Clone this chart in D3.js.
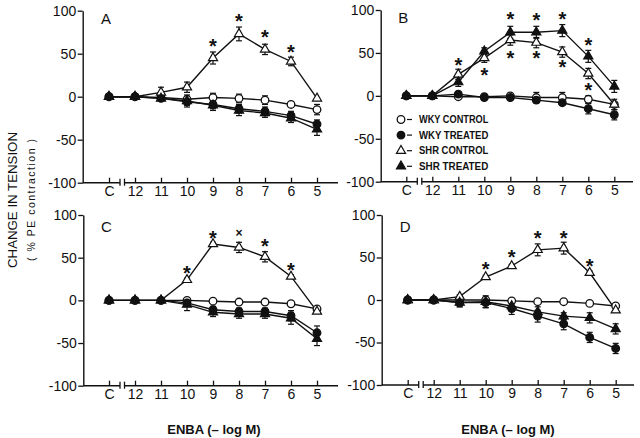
<!DOCTYPE html>
<html><head><meta charset="utf-8">
<script src="https://cdn.jsdelivr.net/npm/d3@7"></script>
<style>
html,body{margin:0;padding:0;background:#fff;}
svg{display:block;}
text{font-family:"Liberation Sans",Arial,sans-serif;fill:#111;}
</style></head>
<body>
<svg id="chart" width="640" height="438"></svg>
<script>
// ---------------- DATA ----------------
const categories = ["C","12","11","10","9","8","7","6","5"];
const yTicks = [100, 50, 0, -50, -100];
const seriesNames = ["WKY CONTROL","WKY TREATED","SHR CONTROL","SHR TREATED"];
const panelLabels = ["A","B","C","D"];

// Panel A
const A_wkyControl = [0, 0, -1, -3, -1, -2, -4, -9, -15];
const A_wkyTreated = [0, 0, -2, -6, -9, -14, -17, -22, -32];
const A_shrControl = [0, 0, 5, 11, 45, 73, 55, 41, -2];
const A_shrTreated = [0, 0, -2, -5, -10, -16, -19, -25, -38];
const A_wkyControlErr = [0, 0, 2, 3, 5, 5, 5, 3, 6];
const A_wkyTreatedErr = [0, 0, 2, 4, 5, 5, 5, 5, 5];
const A_shrControlErr = [0, 0, 6, 6, 7, 8, 6, 5, 0];
const A_shrTreatedErr = [0, 0, 3, 7, 6, 6, 5, 5, 7];
const A_starCats = ["9","8","7","6"];
const A_starVals = [63, 92, 73, 56];
const A_starSyms = ["*","*","*","*"];

// Panel B
const B_wkyControl = [0, 0, -1, -1, 0, -2, -2, -4, -10];
const B_wkyTreated = [0, 0, 2, -2, -2, -5, -8, -15, -22];
const B_shrControl = [0, 0, 25, 44, 65, 62, 51, 26, -10];
const B_shrTreated = [0, 0, 16, 52, 74, 74, 76, 46, 11];
const B_wkyControlErr = [0, 0, 2, 2, 2, 6, 6, 4, 6];
const B_wkyTreatedErr = [0, 0, 2, 2, 2, 3, 3, 6, 6];
const B_shrControlErr = [0, 0, 6, 5, 6, 6, 6, 6, 0];
const B_shrTreatedErr = [0, 0, 5, 4, 7, 7, 7, 7, 7];
const B_starCats = ["11","10","9","9","8","8","7","7","6","6"];
const B_starVals = [39, 28, 93, 48, 92, 48, 93, 37, 63, 10];
const B_starSyms = ["*","*","*","*","*","*","*","*","*","*"];

// Panel C
const C_wkyControl = [0, 0, 0, 0, -1, -2, -2, -4, -10];
const C_wkyTreated = [0, 0, 0, -3, -11, -13, -13, -18, -38];
const C_shrControl = [0, 0, 0, 24, 66, 62, 51, 28, -13];
const C_shrTreated = [0, 0, 0, -5, -14, -16, -16, -21, -45];
const C_wkyControlErr = [0, 0, 0, 2, 2, 2, 2, 2, 2];
const C_wkyTreatedErr = [0, 0, 1, 4, 4, 4, 4, 6, 8];
const C_shrControlErr = [0, 0, 0, 2, 2, 6, 6, 2, 2];
const C_shrTreatedErr = [0, 0, 1, 7, 5, 5, 5, 7, 8];
const C_starCats = ["10","9","8","7","6"];
const C_starVals = [35, 76, 79, 67, 39];
const C_starSyms = ["*","*","×","*","*"];

// Panel D
const D_wkyControl = [0, 0, 0, 0, -1, -2, -2, -4, -7];
const D_wkyTreated = [0, 0, -3, -3, -10, -19, -28, -44, -57];
const D_shrControl = [0, 0, 4, 27, 40, 59, 61, 32, -12];
const D_shrTreated = [0, 0, -3, -2, -7, -14, -19, -21, -34];
const D_wkyControlErr = [0, 0, 0, 2, 2, 2, 2, 2, 2];
const D_wkyTreatedErr = [0, 0, 5, 6, 7, 7, 7, 6, 6];
const D_shrControlErr = [0, 0, 2, 2, 2, 7, 7, 2, 2];
const D_shrTreatedErr = [0, 0, 5, 7, 6, 6, 4, 6, 6];
const D_starCats = ["10","9","8","7","6"];
const D_starVals = [40, 54, 76, 76, 44];
const D_starSyms = ["*","*","*","*","*"];

const panelsData = [
  {vals:[A_wkyControl,A_wkyTreated,A_shrControl,A_shrTreated],
   errs:[A_wkyControlErr,A_wkyTreatedErr,A_shrControlErr,A_shrTreatedErr],
   starCats:A_starCats, starVals:A_starVals, starSyms:A_starSyms},
  {vals:[B_wkyControl,B_wkyTreated,B_shrControl,B_shrTreated],
   errs:[B_wkyControlErr,B_wkyTreatedErr,B_shrControlErr,B_shrTreatedErr],
   starCats:B_starCats, starVals:B_starVals, starSyms:B_starSyms},
  {vals:[C_wkyControl,C_wkyTreated,C_shrControl,C_shrTreated],
   errs:[C_wkyControlErr,C_wkyTreatedErr,C_shrControlErr,C_shrTreatedErr],
   starCats:C_starCats, starVals:C_starVals, starSyms:C_starSyms},
  {vals:[D_wkyControl,D_wkyTreated,D_shrControl,D_shrTreated],
   errs:[D_wkyControlErr,D_wkyTreatedErr,D_shrControlErr,D_shrTreatedErr],
   starCats:D_starCats, starVals:D_starVals, starSyms:D_starSyms}
];

// ---------------- LAYOUT ----------------
const layouts = [
  {axisX:82.7, yTop:10.7, yBot:182.7, cx0:109, xEnd:338},
  {axisX:380.7, yTop:10,  yBot:181.7, cx0:406.3, xEnd:633},
  {axisX:83.3, yTop:215,  yBot:385.7, cx0:109, xEnd:338},
  {axisX:381.7, yTop:215, yBot:385,   cx0:407.7, xEnd:634}
];
const step = 26;
// marker styles per series: [shape, filled]
const markerStyle = [["circle",false],["circle",true],["triangle",false],["triangle",true]];

const svg = d3.select("#chart");

function drawMarker(g, shape, filled, x, y) {
  if (shape === "circle") {
    g.append("circle").attr("cx", x).attr("cy", y).attr("r", 3.8)
      .attr("fill", filled ? "#111" : "#fff").attr("stroke", "#111").attr("stroke-width", 1.3);
  } else {
    g.append("path").attr("d", d3.symbol(d3.symbolTriangle, 36)())
      .attr("transform", `translate(${x},${y})`)
      .attr("fill", filled ? "#111" : "#fff").attr("stroke", "#111").attr("stroke-width", 1.2);
  }
}

panelsData.forEach((pd, pi) => {
  const L = layouts[pi];
  const g = svg.append("g");
  const x = d3.scalePoint().domain(categories).range([L.cx0, L.cx0 + step * (categories.length - 1)]);
  const y = d3.scaleLinear().domain([-100, 100]).range([L.yBot, L.yTop]);

  // Y axis
  const yAxis = d3.axisLeft(y).tickValues(yTicks).tickSize(5).tickSizeOuter(0).tickPadding(1.5)
    .tickFormat(d => d < 0 ? "-" + Math.abs(d) : String(d));
  const ya = g.append("g").attr("transform", `translate(${L.axisX},0)`).call(yAxis);
  ya.selectAll("text").attr("font-size", 14).attr("font-family", "Liberation Sans").attr("fill", "#111");
  ya.selectAll("line").attr("stroke", "#111").attr("stroke-width", 1.3);
  ya.select(".domain").attr("stroke", "#111").attr("stroke-width", 1.4);

  // X axis (ticks upward, custom broken baseline)
  const xAxis = d3.axisBottom(x).tickSize(-5).tickSizeOuter(0).tickPadding(3);
  const xa = g.append("g").attr("transform", `translate(0,${L.yBot})`).call(xAxis);
  xa.select(".domain").remove();
  xa.selectAll("text").attr("font-size", 14).attr("font-family", "Liberation Sans").attr("fill", "#111");
  xa.selectAll("line").attr("stroke", "#111").attr("stroke-width", 1.3);
  const b1 = x("C") + 11, b2 = x("C") + 15.5;
  g.append("line").attr("x1", L.axisX).attr("x2", b1).attr("y1", L.yBot).attr("y2", L.yBot)
    .attr("stroke", "#111").attr("stroke-width", 1.4);
  g.append("line").attr("x1", b2).attr("x2", L.xEnd).attr("y1", L.yBot).attr("y2", L.yBot)
    .attr("stroke", "#111").attr("stroke-width", 1.4);
  [b1, b2].forEach(bx => g.append("line").attr("x1", bx).attr("x2", bx)
    .attr("y1", L.yBot - 4).attr("y2", L.yBot + 3).attr("stroke", "#111").attr("stroke-width", 1.3));

  // panel letter
  g.append("text").attr("x", x("C") - 8).attr("y", L.yTop + 13 + (pi >= 2 ? 4 : 0))
    .attr("font-size", 15).text(panelLabels[pi]);

  const line = d3.line().x((d, i) => x(categories[i])).y(d => y(d));
  // lines
  pd.vals.forEach(vals => {
    g.append("path").attr("d", line(vals)).attr("fill", "none")
      .attr("stroke", "#111").attr("stroke-width", 1.4);
  });
  // error bars
  pd.vals.forEach((vals, si) => {
    vals.forEach((v, i) => {
      const e = pd.errs[si][i];
      if (!e) return;
      const cx = x(categories[i]);
      g.append("line").attr("x1", cx).attr("x2", cx).attr("y1", y(v - e)).attr("y2", y(v + e))
        .attr("stroke", "#111").attr("stroke-width", 1.2);
      [v - e, v + e].forEach(t => g.append("line").attr("x1", cx - 3).attr("x2", cx + 3)
        .attr("y1", y(t)).attr("y2", y(t)).attr("stroke", "#111").attr("stroke-width", 1.2));
    });
  });
  // markers
  pd.vals.forEach((vals, si) => {
    vals.forEach((v, i) => drawMarker(g, markerStyle[si][0], markerStyle[si][1], x(categories[i]), y(v)));
  });
  // significance marks
  pd.starCats.forEach((c, i) => {
    const sym = pd.starSyms[i];
    g.append("text").attr("x", x(c)).attr("y", y(pd.starVals[i]))
      .attr("text-anchor", "middle").attr("dy", sym === "*" ? "0.5em" : "0.35em")
      .attr("font-size", sym === "*" ? 20 : 12).attr("font-weight", "bold")
      .attr("font-family", "DejaVu Sans")
      .text(sym);
  });

  // legend in panel B
  if (pi === 1) {
    const lx = 401, ly0 = 119.5, dy = 15.6;
    seriesNames.forEach((name, si) => {
      const yy = ly0 + dy * si;
      drawMarker(g, markerStyle[si][0], markerStyle[si][1], lx, yy);
      g.append("line").attr("x1", 407).attr("x2", 412).attr("y1", yy).attr("y2", yy)
        .attr("stroke", "#111").attr("stroke-width", 1.2);
      g.append("text").attr("x", 419).attr("y", yy).attr("dy", "0.36em")
        .attr("font-size", 10).attr("font-weight", "bold")
        .attr("textLength", name.length * 6.3).attr("lengthAdjust", "spacingAndGlyphs").text(name);
    });
  }
});

// axis titles
svg.append("text").attr("transform", "translate(17,200) rotate(-90)")
  .attr("text-anchor", "middle").attr("font-size", 13.5)
  .attr("textLength", 136).attr("lengthAdjust", "spacingAndGlyphs").text("CHANGE IN TENSION");
svg.append("text").attr("transform", "translate(35,200) rotate(-90)")
  .attr("text-anchor", "middle").attr("font-size", 10.5)
  .attr("textLength", 122).attr("lengthAdjust", "spacing").text("( % PE contraction )");
[214, 508].forEach(cx => svg.append("text").attr("x", cx).attr("y", 434)
  .attr("text-anchor", "middle").attr("font-size", 13).attr("font-weight", "bold")
  .text("ENBA (– log M)"));
</script>
</body></html>
